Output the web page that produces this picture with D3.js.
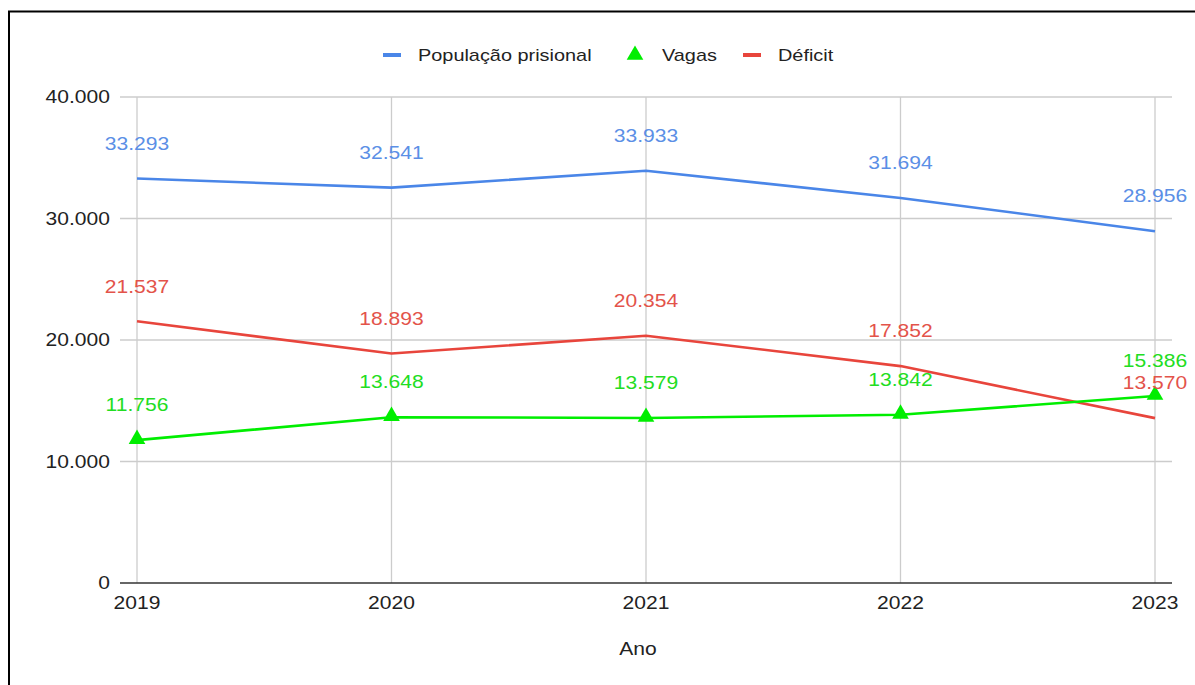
<!DOCTYPE html>
<html>
<head>
<meta charset="utf-8">
<script src="https://cdn.jsdelivr.net/npm/d3@7"></script>
<style>
  body { margin: 0; background: #fff; }
  svg { display: block; font-family: "Liberation Sans", Arial, sans-serif; }
</style>
</head>
<body>
<svg id="chart" width="1195" height="685"></svg>
<script>
// data
var years = ["2019", "2020", "2021", "2022", "2023"];
var populacao = [33293, 32541, 33933, 31694, 28956];
var vagas = [11756, 13648, 13579, 13842, 15386];
var deficit = [21537, 18893, 20354, 17852, 13570];
var yTicks = [0, 10000, 20000, 30000, 40000];

var seriesNames = ["População prisional", "Vagas", "Déficit"];
var seriesColors = ["#4a86e8", "#00ee00", "#e8453c"];
var labelColors = ["#5b8fe6", "#22dd22", "#e3534a"];

var svg = d3.select("#chart");
var width = 1195, height = 685;
var sx = 1.17; // the source text is a bit wide

// frame
svg.append("path")
  .attr("d", "M9,685 V11.5 H1195")
  .attr("fill", "none")
  .attr("stroke", "#000")
  .attr("stroke-width", 2);

var x = d3.scalePoint().domain(years).range([137, 1155]);
var y = d3.scaleLinear().domain([0, 40000]).range([583, 97]);

var fmt = function (v) { return d3.format(",")(v).replace(/,/g, "."); };

function label(g, tx, ty, str, anchor, size, color) {
  g.append("text")
    .attr("transform", "translate(" + tx + "," + ty + ") scale(" + sx + ",1)")
    .attr("dy", "0.35em")
    .attr("text-anchor", anchor)
    .attr("font-size", size)
    .attr("fill", color)
    .text(str);
}

// horizontal gridlines
svg.append("g").selectAll("line")
  .data(yTicks.filter(function (d) { return d > 0; }))
  .join("line")
  .attr("x1", 120).attr("x2", 1172)
  .attr("y1", function (d) { return y(d); })
  .attr("y2", function (d) { return y(d); })
  .attr("stroke", "#cccccc").attr("stroke-width", 1.3);

// vertical gridlines
svg.append("g").selectAll("line")
  .data(years)
  .join("line")
  .attr("x1", function (d) { return x(d); })
  .attr("x2", function (d) { return x(d); })
  .attr("y1", y(40000)).attr("y2", y(0))
  .attr("stroke", "#cccccc").attr("stroke-width", 1.3);

// baseline
svg.append("line")
  .attr("x1", 120).attr("x2", 1172)
  .attr("y1", y(0)).attr("y2", y(0))
  .attr("stroke", "#333").attr("stroke-width", 1.3);

// axis labels
var axisG = svg.append("g");
yTicks.forEach(function (d) {
  label(axisG, 110, y(d), fmt(d), "end", 18, "#222");
});
years.forEach(function (d) {
  label(axisG, x(d), 603, d, "middle", 18, "#222");
});
label(axisG, 638, 649, "Ano", "middle", 18, "#222");

var allSeries = [populacao, vagas, deficit];
var line = d3.line()
  .x(function (d, i) { return x(years[i]); })
  .y(function (d) { return y(d); });

// draw lines: blue, red, then green on top
[0, 2, 1].forEach(function (s) {
  svg.append("path")
    .datum(allSeries[s])
    .attr("fill", "none")
    .attr("stroke", seriesColors[s])
    .attr("stroke-width", 2.6)
    .attr("stroke-linejoin", "round")
    .attr("d", line);
});

// triangle markers for Vagas
var tri = d3.symbol().type(d3.symbolTriangle).size(120);
svg.append("g").selectAll("path")
  .data(vagas)
  .join("path")
  .attr("transform", function (d, i) { return "translate(" + x(years[i]) + "," + (y(d) - 1) + ")"; })
  .attr("fill", seriesColors[1])
  .attr("d", tri);

// value labels
allSeries.forEach(function (vals, s) {
  var g = svg.append("g");
  vals.forEach(function (d, i) {
    label(g, x(years[i]), y(d) - 35, fmt(d), "middle", 18, labelColors[s]);
  });
});

// legend
var legend = svg.append("g");
var legendX = [383, 627, 743];
seriesNames.forEach(function (name, s) {
  var lx = legendX[s];
  if (s === 1) {
    legend.append("path")
      .attr("transform", "translate(" + (lx + 8) + ",55)")
      .attr("fill", seriesColors[1])
      .attr("d", d3.symbol().type(d3.symbolTriangle).size(120));
  } else {
    legend.append("rect")
      .attr("x", lx).attr("y", 53)
      .attr("width", 18).attr("height", 4)
      .attr("fill", seriesColors[s]);
  }
  label(legend, lx + 35, 55, name, "start", 17, "#222");
});
</script>
</body>
</html>
